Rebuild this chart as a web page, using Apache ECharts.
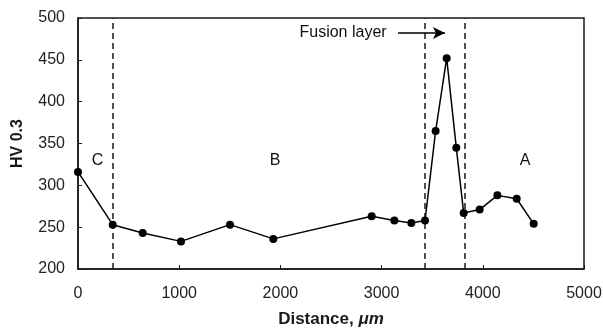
<!DOCTYPE html>
<html>
<head>
<meta charset="utf-8">
<script src="https://cdn.jsdelivr.net/npm/echarts@6/dist/echarts.min.js"></script>
<style>html,body{margin:0;padding:0;background:#fff}#c{width:603px;height:332px}</style>
</head>
<body>
<div id="c"></div>
<script>
// Data
const distance = [0, 343, 639, 1018, 1502, 1930, 2902, 3126, 3294, 3429, 3534, 3643, 3738, 3811, 3969, 4144, 4335, 4503];
const hardness = [316, 253, 243, 233, 253, 236, 263, 258, 255, 258, 365, 452, 345, 267, 271, 288, 284, 254];
const boundaries = [343, 3422, 3821];
const zoneLabels = ['C', 'B', 'A'];
const zoneLabelX = [194, 1947, 4417];
const zoneLabelY = 329;
const xTicks = [0, 1000, 2000, 3000, 4000, 5000];
const yTicks = [200, 250, 300, 350, 400, 450, 500];
const fusionText = 'Fusion layer';
const fusionTextPos = [2619, 482];
const fusionArrow = [[3162, 482], [3626, 482]];

const font = 'Liberation Sans, Arial, sans-serif';
const ink = '#1a1a1a';
const chart = echarts.init(document.getElementById('c'), null, {renderer: 'canvas'});

chart.setOption({
  animation: false,
  backgroundColor: '#fff',
  grid: {left: 78, right: 19, top: 18, bottom: 63, show: true, borderColor: ink, borderWidth: 1.5, backgroundColor: 'transparent', outerBoundsMode: 'none', containLabel: false},
  xAxis: {
    type: 'value', min: xTicks[0], max: xTicks[xTicks.length - 1], interval: 1000,
    name: 'Distance, {i|μm}', nameLocation: 'middle', nameGap: 42,
    nameTextStyle: {fontFamily: font, fontSize: 17, fontWeight: 'bold', color: ink,
      rich: {i: {fontFamily: font, fontSize: 17, fontWeight: 'bold', fontStyle: 'italic', color: ink}}},
    axisLine: {show: true, lineStyle: {color: ink, width: 1.5}},
    axisTick: {show: true, inside: true, length: 4, lineStyle: {color: ink}},
    axisLabel: {fontFamily: font, fontSize: 16, color: '#222', margin: 17, formatter: v => String(v)},
    splitLine: {show: false}
  },
  yAxis: {
    type: 'value', min: yTicks[0], max: yTicks[yTicks.length - 1], interval: 50,
    name: 'HV 0.3', nameLocation: 'middle', nameGap: 52,
    nameTextStyle: {fontFamily: font, fontSize: 16, fontWeight: 'bold', color: ink},
    axisLine: {show: true, lineStyle: {color: ink, width: 1.5}},
    axisTick: {show: true, inside: true, length: 4, lineStyle: {color: ink}},
    axisLabel: {fontFamily: font, fontSize: 16, color: '#222', margin: 13, formatter: v => String(v)},
    splitLine: {show: false}
  },
  series: [
    {
      type: 'line',
      data: distance.map((d, i) => [d, hardness[i]]),
      symbol: 'circle', symbolSize: 8,
      itemStyle: {color: '#000'},
      lineStyle: {color: '#000', width: 1.5},
      z: 5,
      markLine: {
        silent: true, symbol: 'none', label: {show: false},
        lineStyle: {color: ink, type: [6, 4], width: 1.5},
        data: boundaries.map(b => ({xAxis: b}))
      }
    },
    {
      type: 'scatter',
      data: zoneLabels.map((t, i) => ({value: [zoneLabelX[i], zoneLabelY], name: t})),
      symbolSize: 0,
      itemStyle: {opacity: 1, color: '#111'},
      label: {show: true, position: 'inside', formatter: p => p.name, fontFamily: font, fontSize: 16, color: '#111', textBorderWidth: 0},
      silent: true
    },
    {
      type: 'scatter',
      data: [{value: fusionTextPos, name: fusionText}],
      symbolSize: 0,
      itemStyle: {opacity: 1, color: '#111'},
      label: {show: true, position: 'inside', formatter: p => p.name, fontFamily: font, fontSize: 16, color: '#111', textBorderWidth: 0},
      silent: true,
      markLine: {
        silent: true, symbol: ['none', 'arrow'], symbolSize: [9, 12], label: {show: false},
        lineStyle: {color: '#000', type: 'solid', width: 1.5},
        data: [[{coord: fusionArrow[0]}, {coord: fusionArrow[1]}]]
      }
    }
  ]
});
</script>
</body>
</html>
